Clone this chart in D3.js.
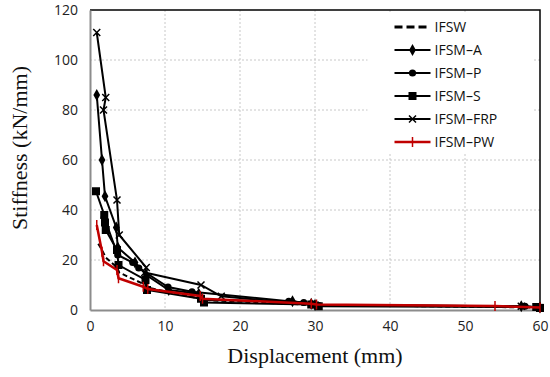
<!DOCTYPE html>
<html>
<head>
<meta charset="utf-8">
<script src="https://cdn.jsdelivr.net/npm/d3@7"></script>
<style>
  html, body { margin: 0; padding: 0; background: #fff; }
  svg { display: block; }
</style>
</head>
<body>
<div id="chart"></div>
<script>
// axis ticks
const xTicks = [0, 10, 20, 30, 40, 50, 60];
const yTicks = [0, 20, 40, 60, 80, 100, 120];

// series (displacement mm, stiffness kN/mm)
const ifswX   = [1.1, 1.6, 2.1, 3.6, 3.9, 7.4, 7.6, 14.8, 15.2, 30, 60];
const ifswY   = [26.5, 24, 21, 17, 15, 10, 9, 4.5, 4, 2, 1];

const ifsmAX  = [0.9, 1.6, 2.0, 3.5, 3.7, 6.0, 7.5, 10.5, 14.5, 15, 27, 29.5, 30, 57.5, 60];
const ifsmAY  = [86, 60, 45.5, 33, 25, 19, 14, 8, 6.5, 4, 3.5, 2.5, 2, 1.5, 1];

const ifsmPX  = [1.9, 3.7, 5.7, 6.5, 10.4, 13.6, 26.5, 28.5, 30.5, 58, 60];
const ifsmPY  = [37, 22, 19, 16.8, 9.2, 7.3, 3.5, 3, 1.8, 1.5, 1];

const ifsmSX  = [0.8, 1.9, 2.0, 2.1, 3.6, 3.8, 7.4, 7.6, 14.8, 15.2, 29.5, 30.5, 59.5, 60];
const ifsmSY  = [47.5, 38, 35, 32, 24, 18, 12, 8, 4.5, 3, 2.2, 1.5, 1.2, 0.8];

const ifsmFX  = [0.9, 2.1, 1.8, 3.6, 3.9, 7.5, 7.3, 14.8, 17.5, 30, 57.5, 60];
const ifsmFY  = [111, 85, 80, 44, 30, 17, 15, 10, 5.5, 2, 1.5, 1];

const ifsmPWX = [0.9, 1.6, 1.8, 3.6, 3.8, 7.1, 7.7, 14.7, 15.0, 29.5, 30.2, 54, 60];
const ifsmPWY = [34, 23.3, 19.5, 16, 12.7, 9.3, 8.4, 5.6, 4.5, 2.5, 2.2, 1.6, 1];

const seriesNames = ["IFSW", "IFSM\u2013A", "IFSM\u2013P", "IFSM\u2013S", "IFSM\u2013FRP", "IFSM\u2013PW"];

const series = [
  { name: seriesNames[0], xs: ifswX,   ys: ifswY,   color: "#000", marker: "none",    dash: "5,3" },
  { name: seriesNames[1], xs: ifsmAX,  ys: ifsmAY,  color: "#000", marker: "diamond" },
  { name: seriesNames[2], xs: ifsmPX,  ys: ifsmPY,  color: "#000", marker: "circle" },
  { name: seriesNames[3], xs: ifsmSX,  ys: ifsmSY,  color: "#000", marker: "square" },
  { name: seriesNames[4], xs: ifsmFX,  ys: ifsmFY,  color: "#000", marker: "x" },
  { name: seriesNames[5], xs: ifsmPWX, ys: ifsmPWY, color: "#c00000", marker: "tick" }
];

const width = 550, height = 377;
const margin = { top: 10, right: 10, bottom: 67, left: 90 };
const innerWidth = width - margin.left - margin.right;
const innerHeight = height - margin.top - margin.bottom;

const svg = d3.select("#chart").append("svg")
  .attr("width", width)
  .attr("height", height);

const g = svg.append("g")
  .attr("transform", `translate(${margin.left},${margin.top})`);

const x = d3.scaleLinear().domain([0, 60]).range([0, innerWidth]);
const y = d3.scaleLinear().domain([0, 120]).range([innerHeight, 0]);

// grid
g.append("g")
  .selectAll("line")
  .data(xTicks.slice(1, -1))
  .join("line")
  .attr("x1", d => x(d)).attr("x2", d => x(d))
  .attr("y1", 0).attr("y2", innerHeight)
  .attr("stroke", "#c8c8c8")
  .attr("stroke-dasharray", "2,2");

g.append("g")
  .selectAll("line")
  .data(yTicks.slice(1, -1))
  .join("line")
  .attr("x1", 0).attr("x2", innerWidth)
  .attr("y1", d => y(d)).attr("y2", d => y(d))
  .attr("stroke", "#c8c8c8")
  .attr("stroke-dasharray", "2,2");

// frame (top/right black)
g.append("path")
  .attr("d", `M0,${y(120)}H${x(60)}V${y(0)}`)
  .attr("fill", "none")
  .attr("stroke", "#000")
  .attr("stroke-width", 1.5);

// axes
const fontSans = "'Open Sans', 'Liberation Sans', sans-serif";

const xAxis = g.append("g")
  .attr("transform", `translate(0,${innerHeight})`)
  .call(d3.axisBottom(x).tickValues(xTicks).tickSize(0).tickPadding(11));

const yAxis = g.append("g")
  .call(d3.axisLeft(y).tickValues(yTicks).tickSize(0).tickPadding(12));

[xAxis, yAxis].forEach(a => {
  a.select(".domain").attr("stroke", "#8c8c8c").attr("stroke-width", 2);
  a.selectAll("text")
    .attr("font-family", fontSans)
    .attr("font-size", 14)
    .attr("fill", "#222");
});

// legend box first so the data can overlap it as in the original
const legend = g.append("g").attr("transform", `translate(${x(37)},0)`);
legend.append("rect")
  .attr("x", 0).attr("y", 2)
  .attr("width", x(59) - x(37)).attr("height", 142)
  .attr("fill", "#fff");

// lines
const line = d3.line()
  .x(d => x(d[0]))
  .y(d => y(d[1]));

function drawMarker(sel, type, color) {
  if (type === "diamond") {
    sel.append("path").attr("d", d3.symbol(d3.symbolDiamond, 40)()).attr("fill", color);
  } else if (type === "circle") {
    sel.append("circle").attr("r", 3.6).attr("fill", color);
  } else if (type === "square") {
    sel.append("rect").attr("x", -4).attr("y", -4).attr("width", 8).attr("height", 8).attr("fill", color);
  } else if (type === "x") {
    sel.append("path").attr("d", "M-3.5,-3.5L3.5,3.5M-3.5,3.5L3.5,-3.5")
      .attr("stroke", color).attr("stroke-width", 1.5).attr("fill", "none");
  } else if (type === "tick") {
    sel.append("path").attr("d", "M0,-5V5")
      .attr("stroke", color).attr("stroke-width", 1.5).attr("fill", "none");
  }
}

series.forEach(s => {
  const pts = s.xs.map((v, i) => [v, s.ys[i]]);
  g.append("path")
    .datum(pts)
    .attr("fill", "none")
    .attr("stroke", s.color)
    .attr("stroke-width", s.marker === "tick" ? 2.5 : 2)
    .attr("stroke-dasharray", s.dash || null)
    .attr("d", line);

  if (s.marker !== "none") {
    g.append("g")
      .selectAll("g")
      .data(pts)
      .join("g")
      .attr("transform", d => `translate(${x(d[0])},${y(d[1])})`)
      .each(function() { drawMarker(d3.select(this), s.marker, s.color); });
  }
});

// legend entries
series.forEach((s, i) => {
  const row = legend.append("g").attr("transform", `translate(0,${17 + i * 23})`);
  row.append("line")
    .attr("x1", 27).attr("x2", 63)
    .attr("stroke", s.color)
    .attr("stroke-width", s.dash ? 3 : (s.marker === "tick" ? 2.5 : 1.8))
    .attr("stroke-dasharray", s.dash ? "8,4" : null);
  const m = row.append("g").attr("transform", "translate(45,0)");
  drawMarker(m, s.marker, s.color);
  row.append("text")
    .attr("x", 67).attr("y", 5)
    .attr("font-family", fontSans)
    .attr("font-size", 14)
    .attr("fill", "#111")
    .text(s.name);
});

// axis titles
svg.append("text")
  .attr("x", margin.left + innerWidth / 2)
  .attr("y", 363)
  .attr("text-anchor", "middle")
  .attr("font-family", "'Liberation Serif', 'Times New Roman', serif")
  .attr("font-size", 22)
  .attr("fill", "#111")
  .text("Displacement (mm)");

svg.append("text")
  .attr("transform", `translate(27,${margin.top + innerHeight / 2 - 12}) rotate(-90)`)
  .attr("text-anchor", "middle")
  .attr("font-family", "'Liberation Serif', 'Times New Roman', serif")
  .attr("font-size", 22)
  .attr("fill", "#111")
  .text("Stiffness (kN/mm)");
</script>
</body>
</html>
